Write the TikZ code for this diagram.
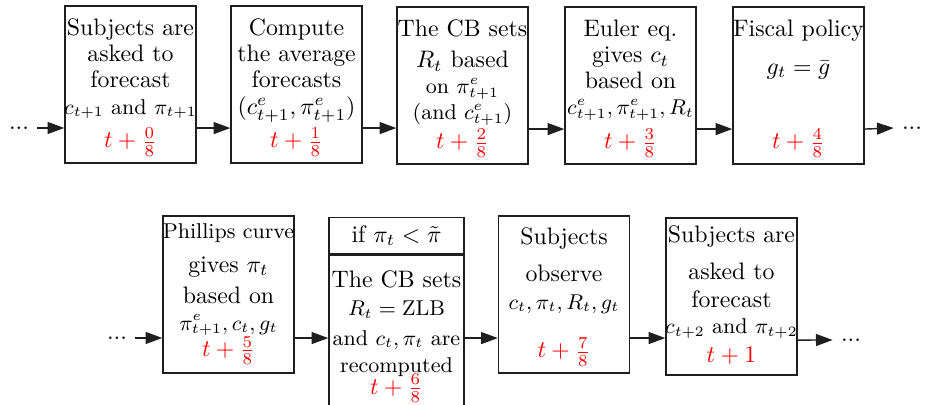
\documentclass[tikz,border=0pt]{standalone}
\usetikzlibrary{arrows.meta,positioning}
\definecolor{TimeClr}{rgb}{1,0,0}
\definecolor{LineClr}{rgb}{0.12,0.12,0.12}
\newcommand{\ArrowDrop}{18.3pt}
\tikzset{
  stage/.style={draw=LineClr,line width=0.6pt,minimum width=55pt,minimum height=66pt,inner sep=0pt},
  stagetext/.style={align=center,inner sep=2pt,font=\fontsize{10}{11}\selectfont},
  stagetime/.style={text=TimeClr,inner sep=2pt},
  flow/.style={draw=LineClr,line width=0.6pt,-{Triangle[length=7pt,width=5pt]}},
}
\begin{document}
\begin{tikzpicture}[x=0.42pt,y=-0.42pt]
\path[use as bounding box,clip] (0,0) rectangle (926,405);

% first row
\node[stage] (S1) at (130.5,84.5) {};
\node[stage] (S2) at (296.5,84.5) {};
\node[stage] (S3) at (462.5,85.5) {};
\node[stage] (S4) at (630.5,85.5) {};
\node[stage] (S5) at (798.5,85.5) {};

\node[stagetext,below=3.5pt of S1.north] (T1) {Subjects are\\ asked to\\ forecast\\ \small $c_{t+1}$ and $\pi_{t+1}$};
\node[stagetext,below=3.5pt of S2.north] (T2) {Compute\\ the average\\ forecasts\\ $(c^e_{t+1},\pi^e_{t+1})$};
\node[stagetext,below=3.5pt of S3.north] (T3) {The CB sets\\[2pt] $R_t$ based\\ \small on $\pi^e_{t+1}$\\ \small (and $c^e_{t+1}$)};
\node[stagetext,below=3.5pt of S4.north] (T4) {Euler eq.\\ gives $c_t$\\ based on\\ \small $c^e_{t+1},\pi^e_{t+1},R_t$};
\node[stagetext,below=3.5pt of S5.north] (T5) {Fiscal policy\\[5pt] $g_t=\bar{g}$};

\node[stagetime,above=1pt of S1.south] (P1) {$t+\frac{0}{8}$};
\node[stagetime,above=1pt of S2.south] (P2) {$t+\frac{1}{8}$};
\node[stagetime,above=1pt of S3.south] (P3) {$t+\frac{2}{8}$};
\node[stagetime,above=1pt of S4.south] (P4) {$t+\frac{3}{8}$};
\node[stagetime,above=1pt of S5.south] (P5) {$t+\frac{4}{8}$};

\node (L1) at (19,128) {...};
\node (R1) at (912,128) {...};

\draw[flow] (L1.east) -- (L1.east -| S1.west);
\draw[flow] ([yshift=-\ArrowDrop]S1.east) -- ([yshift=-\ArrowDrop]S1.east -| S2.west);
\draw[flow] ([yshift=-\ArrowDrop]S2.east) -- ([yshift=-\ArrowDrop]S2.east -| S3.west);
\draw[flow] ([yshift=-\ArrowDrop]S3.east) -- ([yshift=-\ArrowDrop]S3.east -| S4.west);
\draw[flow] ([yshift=-\ArrowDrop]S4.east) -- ([yshift=-\ArrowDrop]S4.east -| S5.west);
\draw[flow] ([yshift=-\ArrowDrop]S5.east) -- (R1.west);

% second row
\node[stage] (S6) at (228.5,294.5) {};
\node[stage,minimum width=56.7pt,minimum height=70.1pt] (S7) at (396.5,338.5) {};
\node[stage,minimum width=56.7pt,minimum height=15.1pt,anchor=south] (H7) at (S7.north) {if $\pi_t<\tilde{\pi}$};
\node[stage] (S8) at (564,294.5) {};
\node[stage] (S9) at (731.5,296.5) {};

\node[stagetext,below=1.5pt of S6.north] (T6) {\small Phillips curve\\[3pt] gives $\pi_t$\\[2pt] based on\\[0.3pt] \small $\pi^e_{t+1},c_t,g_t$};
\node[stagetext,below=4.5pt of S7.north] (T7) {The CB sets\\[1pt] \small $R_t=\mathrm{ZLB}$\\[1.5pt] \small and $c_t,\pi_t$ are\\[0.5pt] \small recomputed};
\node[stagetext,below=2.9pt of S8.north] (T8) {Subjects\\[4.5pt] observe\\[1pt] \small $c_t,\pi_t,R_t,g_t$};
\node[stagetext,below=1.5pt of S9.north] (T9) {Subjects are\\[4.5pt] asked to\\[0.8pt] forecast\\ \small $c_{t+2}$ and $\pi_{t+2}$};

\node[stagetime,above=1.5pt of S6.south] (P6) {$t+\frac{5}{8}$};
\node[stagetime,above=6.3pt of S7.south] (P7) {$t+\frac{6}{8}$};
\node[stagetime,above=1pt of S8.south] (P8) {$t+\frac{7}{8}$};
\node[stagetime,above=2.6pt of S9.south] (P9) {$t+1$};

\node (L2) at (117,338) {...};
\node (R2) at (851,340) {...};

\draw[flow] (L2.east) -- (L2.east -| S6.west);
\draw[flow] ([yshift=-\ArrowDrop]S6.east) -- ([yshift=-\ArrowDrop]S6.east -| S7.west);
\draw[flow] ([yshift=-\ArrowDrop]S8.west -| S7.east) -- ([yshift=-\ArrowDrop]S8.west);
\draw[flow] ([yshift=-\ArrowDrop]S8.east) -- ([yshift=-\ArrowDrop]S8.east -| S9.west);
\draw[flow] ([yshift=-\ArrowDrop]S9.east) -- (R2.west);

\end{tikzpicture}
\end{document}
